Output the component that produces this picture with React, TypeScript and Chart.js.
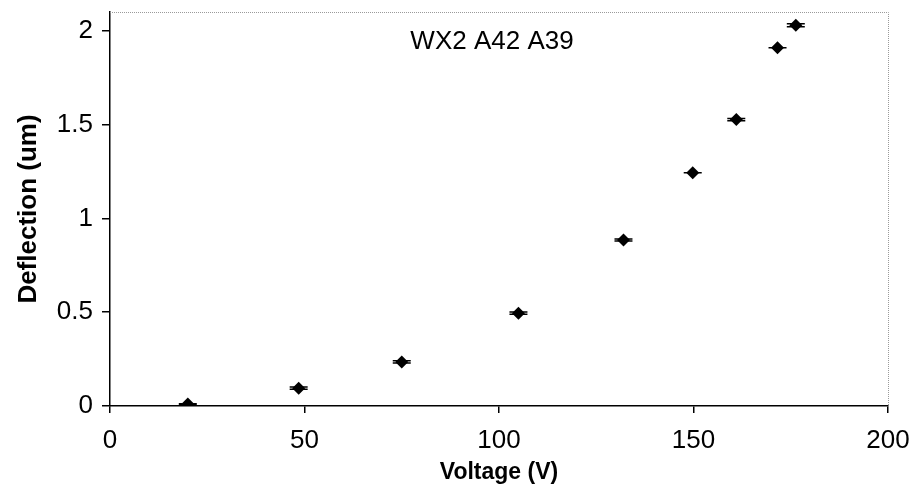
import React, { useEffect, useRef } from "react";
import { Chart, registerables } from "chart.js";

Chart.register(...registerables);

const voltage = [20, 48.5, 75, 105, 132, 149.8, 161, 171.6, 176.3];
const deflection = [0.01, 0.095, 0.235, 0.495, 0.885, 1.243, 1.527, 1.91, 2.03];
const deflectionErr = [0.002, 0.006, 0.006, 0.006, 0.005, 0, 0.006, 0, 0.008];
const xTicks = [0, 50, 100, 150, 200];
const yTicks = [0, 0.5, 1, 1.5, 2];
const chartTitle = "WX2 A42 A39";
const xTitle = "Voltage (V)";
const yTitle = "Deflection (um)";

const FONT = "'Liberation Sans', Arial, sans-serif";

const errorBarPlugin = {
  id: "errorBars",
  beforeDatasetsDraw(chart: any) {
    const ctx = chart.ctx;
    const xs = chart.scales.x;
    const ys = chart.scales.y;
    ctx.save();
    ctx.strokeStyle = "#000";
    ctx.lineWidth = 1.5;
    voltage.forEach((v, i) => {
      const px = xs.getPixelForValue(v);
      const e = deflectionErr[i];
      const yTop = ys.getPixelForValue(deflection[i] + e);
      const yBot = ys.getPixelForValue(deflection[i] - e);
      const half = 9;
      ctx.beginPath();
      ctx.moveTo(px - half, yTop);
      ctx.lineTo(px + half, yTop);
      ctx.moveTo(px - half, yBot);
      ctx.lineTo(px + half, yBot);
      ctx.moveTo(px, yTop);
      ctx.lineTo(px, yBot);
      ctx.stroke();
    });
    ctx.restore();
  },
};

const framePlugin = {
  id: "frame",
  beforeDatasetsDraw(chart: any) {
    const { ctx, chartArea } = chart;
    ctx.save();
    ctx.strokeStyle = "#9a9a9a";
    ctx.lineWidth = 1;
    ctx.setLineDash([1, 1]);
    ctx.beginPath();
    ctx.moveTo(chartArea.left, chartArea.top + 0.5);
    ctx.lineTo(chartArea.right + 0.5, chartArea.top + 0.5);
    ctx.lineTo(chartArea.right + 0.5, chartArea.bottom);
    ctx.stroke();
    ctx.restore();
  },
  afterDatasetsDraw(chart: any) {
    const ctx = chart.ctx;
    const xs = chart.scales.x;
    const ys = chart.scales.y;
    ctx.save();
    ctx.fillStyle = "#000";
    ctx.font = `26px ${FONT}`;
    ctx.textAlign = "center";
    ctx.textBaseline = "middle";
    ctx.fillText(chartTitle, xs.getPixelForValue(98.2), ys.getPixelForValue(1.94));
    ctx.restore();
  },
};

export default function App() {
  const ref = useRef<HTMLCanvasElement>(null);
  useEffect(() => {
    document.body.style.margin = "0";
    const chart = new Chart(ref.current!, {
      type: "scatter",
      data: {
        datasets: [
          {
            data: voltage.map((v, i) => ({ x: v, y: deflection[i] })),
            pointStyle: "rectRot",
            pointRadius: 6.5,
            pointBackgroundColor: "#000",
            pointBorderColor: "#000",
            borderWidth: 0,
          },
        ],
      },
      options: {
        animation: false,
        responsive: false,
        layout: { padding: { left: 0, top: 12, right: 22, bottom: 0 } },
        plugins: { legend: { display: false }, tooltip: { enabled: false } },
        scales: {
          x: {
            type: "linear",
            min: 0,
            max: 200,
            afterBuildTicks: (s: any) => {
              s.ticks = xTicks.map((v) => ({ value: v }));
            },
            afterFit: (s: any) => {
              s.height = 87;
              s.paddingLeft = 0;
              s.paddingRight = 0;
            },
            grid: { drawOnChartArea: false, drawTicks: true, tickLength: 7, color: "#000", lineWidth: 1.5 },
            border: { display: true, color: "#000", width: 1.5 },
            ticks: { color: "#000", font: { family: FONT, size: 26 }, padding: 12, maxRotation: 0, callback: (v: any) => String(v) },
            title: { display: true, text: xTitle, color: "#000", font: { family: FONT, size: 23, weight: "bold" }, padding: { top: 0, bottom: 7 } },
          },
          y: {
            type: "linear",
            min: 0,
            max: 2.1,
            afterBuildTicks: (s: any) => {
              s.ticks = yTicks.map((v) => ({ value: v }));
            },
            afterFit: (s: any) => {
              s.width = 110;
              s.paddingTop = 0;
              s.paddingBottom = 0;
            },
            grid: { drawOnChartArea: false, drawTicks: true, tickLength: 8, color: "#000", lineWidth: 1.5 },
            border: { display: true, color: "#000", width: 1.5 },
            ticks: { color: "#000", font: { family: FONT, size: 26 }, padding: 9, callback: (v: any) => String(v) },
            title: { display: true, text: yTitle, color: "#000", font: { family: FONT, size: 26, weight: "bold" }, padding: { top: 13, bottom: 4 } },
          },
        },
      },
      plugins: [errorBarPlugin, framePlugin],
    } as any);
    return () => chart.destroy();
  }, []);
  return (
    <div style={{ width: 910, height: 493 }}>
      <canvas ref={ref} width={910} height={493} style={{ display: "block" }} />
    </div>
  );
}
